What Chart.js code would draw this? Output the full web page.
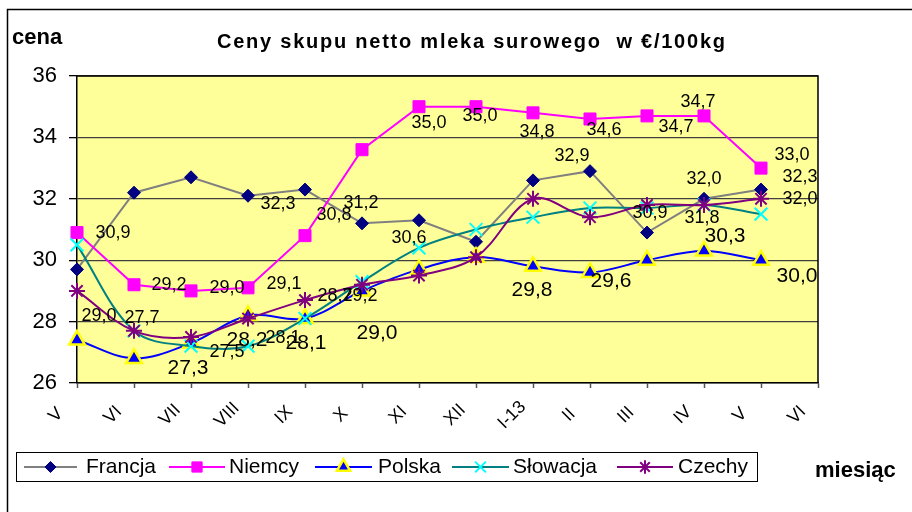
<!DOCTYPE html>
<html lang="pl">
<head>
<meta charset="utf-8">
<title>Ceny skupu netto mleka surowego</title>
<script src="https://cdn.jsdelivr.net/npm/chart.js@4.4.1/dist/chart.umd.min.js"></script>
<style>
  html, body { margin: 0; padding: 0; background: #fff; }
  #wrap { width: 912px; height: 512px; }
</style>
</head>
<body>
<div id="wrap"><canvas id="lineChart" width="912" height="512"></canvas></div>
<script>
// miesiące na osi X (ostatni bez danych)
const miesiace = ['V', 'VI', 'VII', 'VIII', 'IX', 'X', 'XI', 'XII', 'I-13', 'II', 'III', 'IV', 'V', 'VI'];
const yTicks = [26, 28, 30, 32, 34, 36];

// ceny w €/100kg
const francja  = [29.7, 32.2, 32.7, 32.1, 32.3, 31.2, 31.3, 30.6, 32.6, 32.9, 30.9, 32.0, 32.3];
const niemcy   = [30.9, 29.2, 29.0, 29.1, 30.8, 33.6, 35.0, 35.0, 34.8, 34.6, 34.7, 34.7, 33.0];
const polska   = [27.4, 26.8, 27.3, 28.2, 28.1, 29.0, 29.7, 30.1, 29.8, 29.6, 30.0, 30.3, 30.0];
const slowacja = [30.5, 27.7, 27.2, 27.2, 28.1, 29.3, 30.4, 31.0, 31.4, 31.7, 31.7, 31.8, 31.5];
const czechy   = [29.0, 27.7, 27.5, 28.1, 28.7, 29.2, 29.5, 30.1, 32.0, 31.4, 31.8, 31.8, 32.0];

const FONT = "'Liberation Sans', Arial, sans-serif";

// etykiety danych: [indeks punktu, przesunięcie x, przesunięcie y]
const etykiety = {
    0: [[4, -27, 14], [5, -1, -20], [7, -67, -4], [9, -18, -15], [10, 3, -20], [11, 0, -20], [12, 39, -13]],
    1: [[0, 36, 0], [1, 35, 0], [2, 36, -3], [3, 36, -4], [4, 29, -21], [6, 10, 16], [7, 4, 9],
        [8, 4, 19], [9, 14, 11], [10, 29, 11], [11, -6, -14], [12, 31, -13]],
    2: [[2, -3, 25], [3, -1, 25], [4, 1, 25], [5, 15, 42], [8, -1, 24], [9, 21, 9], [11, 21, -15], [12, 36, 16]],
    4: [[0, 22, 25], [1, 8, -13], [2, 36, 15], [3, 35, 20], [4, 30, -4], [5, -2, 11], [11, -2, 13], [12, 39, 0]]
};

const seria = [
    { label: 'Francja',  data: francja,  line: '#808080', fill: '#000080', stroke: '#000080', style: 'rectRot',  r: 6.5, bw: 1,   tension: 0,    order: 4 },
    { label: 'Niemcy',   data: niemcy,   line: '#FF00FF', fill: '#FF00FF', stroke: '#FF00FF', style: 'rect',     r: 8.5, bw: 1,   tension: 0,    order: 3 },
    { label: 'Polska',   data: polska,   line: '#0000FF', fill: '#0000FF', stroke: '#FFFF00', style: 'triangle', r: 9,   bw: 2.5, tension: 0.35, order: 2 },
    { label: 'Słowacja', data: slowacja, line: '#008080', fill: '#00FFFF', stroke: '#00FFFF', style: 'crossRot', r: 9,   bw: 2,   tension: 0.35, order: 1 },
    { label: 'Czechy',   data: czechy,   line: '#800080', fill: '#800080', stroke: '#800080', style: 'star',     r: 8,   bw: 2,   tension: 0.35, order: 0 }
];

function drawMarker(ctx, s, x, y, r) {
    ctx.save();
    ctx.fillStyle = s.fill;
    ctx.strokeStyle = s.stroke;
    ctx.lineWidth = s.bw;
    if (Chart.helpers && Chart.helpers.drawPoint) {
        Chart.helpers.drawPoint(ctx, { pointStyle: s.style, rotation: 0, radius: r, borderWidth: s.bw }, x, y);
    }
    ctx.restore();
}

// tło, ramki, tytuły, etykiety osi X i legenda
const dekoracje = {
    id: 'dekoracje',
    beforeDraw(chart) {
        const { ctx, chartArea: a } = chart;
        ctx.save();
        ctx.fillStyle = '#fff';
        ctx.fillRect(0, 0, chart.width, chart.height);
        ctx.fillStyle = '#FFFF99';
        ctx.fillRect(a.left, a.top, a.right - a.left, a.bottom - a.top);
        ctx.restore();
    },
    beforeDatasetsDraw(chart) {
        const { ctx, chartArea: a } = chart;
        ctx.save();
        ctx.strokeStyle = '#000';
        ctx.lineWidth = 1.5;
        ctx.beginPath();
        ctx.moveTo(a.left, a.top);
        ctx.lineTo(a.right, a.top);
        ctx.lineTo(a.right, a.bottom);
        ctx.stroke();
        ctx.restore();
    },
    afterDatasetsDraw(chart) {
        const { ctx, chartArea: a } = chart;
        ctx.save();
        ctx.beginPath();
        ctx.rect(0, 0, a.right, chart.height);
        ctx.clip();
        ctx.fillStyle = '#000';
        ctx.textAlign = 'center';
        ctx.textBaseline = 'middle';
        Object.keys(etykiety).forEach(k => {
            const meta = chart.getDatasetMeta(+k);
            const vals = chart.data.datasets[+k].data;
            ctx.font = (+k === 2 ? '21px ' : '18px ') + FONT;
            etykiety[k].forEach(([i, dx, dy]) => {
                const p = meta.data[i];
                ctx.fillText(vals[i].toFixed(1).replace('.', ','), p.x + dx, p.y + dy);
            });
        });
        ctx.restore();
    },
    afterDraw(chart) {
        const { ctx, chartArea: a } = chart;
        const xs = chart.scales.x;
        ctx.save();

        // ramka całego wykresu
        ctx.strokeStyle = '#000';
        ctx.lineWidth = 1.5;
        ctx.strokeRect(7.5, 9.5, 1000, 1000);

        // etykiety miesięcy, obrócone
        ctx.fillStyle = '#000';
        ctx.font = '18px ' + FONT;
        ctx.textAlign = 'center';
        ctx.textBaseline = 'middle';
        miesiace.forEach((m, i) => {
            ctx.save();
            ctx.translate(xs.getPixelForValue(i) - 21, a.bottom + 32);
            ctx.rotate(-Math.PI / 4);
            ctx.fillText(m, 0, 0);
            ctx.restore();
        });

        // tytuł z rozstrzelonymi literami
        const tytul = 'Ceny skupu netto mleka surowego  w €/100kg';
        ctx.font = 'bold 20px ' + FONT;
        ctx.textAlign = 'left';
        ctx.textBaseline = 'alphabetic';
        const chars = Array.from(tytul);
        const wTot = chars.reduce((s, c) => s + ctx.measureText(c).width, 0);
        const gap = (508 - wTot) / (chars.length - 1);
        let tx = 217;
        chars.forEach(c => {
            ctx.fillText(c, tx, 48);
            tx += ctx.measureText(c).width + gap;
        });

        ctx.font = 'bold 22px ' + FONT;
        ctx.fillText('cena', 12, 44);
        ctx.fillText('miesiąc', 815, 477);

        // legenda
        ctx.fillStyle = '#fff';
        ctx.fillRect(16, 452, 741, 29);
        ctx.strokeStyle = '#000';
        ctx.lineWidth = 1;
        ctx.strokeRect(16.5, 452.5, 741, 29);
        const poz = [[24, 77, 86], [169, 225, 229], [315, 372, 378], [452, 509, 513], [617, 673, 678]];
        const ly = 467;
        seria.forEach((s, i) => {
            const [x0, x1, xt] = poz[i];
            ctx.strokeStyle = s.line;
            ctx.lineWidth = 2;
            ctx.beginPath();
            ctx.moveTo(x0, ly);
            ctx.lineTo(x1, ly);
            ctx.stroke();
            drawMarker(ctx, s, (x0 + x1) / 2, ly, s.r * 0.85);
            ctx.fillStyle = '#000';
            ctx.font = '21px ' + FONT;
            ctx.textAlign = 'left';
            ctx.textBaseline = 'middle';
            ctx.fillText(s.label, xt, ly);
        });
        ctx.restore();
    }
};

function initializeChart() {
    const canvas = document.getElementById('lineChart');
    if (!canvas) return;

    new Chart(canvas.getContext('2d'), {
        type: 'line',
        data: {
            labels: miesiace,
            datasets: seria.map(s => ({
                label: s.label,
                data: s.data,
                borderColor: s.line,
                borderWidth: 2,
                backgroundColor: s.fill,
                pointStyle: s.style,
                pointRadius: s.r,
                pointBackgroundColor: s.fill,
                pointBorderColor: s.stroke,
                pointBorderWidth: s.bw,
                tension: s.tension,
                order: s.order,
                clip: false,
                fill: false
            }))
        },
        options: {
            responsive: false,
            animation: false,
            events: [],
            layout: { padding: { left: 0, top: 76, right: 94, bottom: 89 } },
            plugins: {
                legend: { display: false },
                title: { display: false },
                tooltip: { enabled: false }
            },
            scales: {
                x: {
                    type: 'category',
                    offset: false,
                    afterFit: scale => { scale.height = 40; },
                    grid: { drawOnChartArea: false, tickLength: 5, tickColor: '#555', tickWidth: 1.5 },
                    border: { color: '#000', width: 1.5 },
                    ticks: { display: false }
                },
                y: {
                    min: yTicks[0],
                    max: yTicks[yTicks.length - 1],
                    afterFit: scale => { scale.width = 77; },
                    afterBuildTicks: scale => { scale.ticks = yTicks.map(v => ({ value: v })); },
                    grid: { color: '#404040', lineWidth: 1.3, tickLength: 8, tickColor: '#000' },
                    border: { color: '#000', width: 1.5 },
                    ticks: { color: '#000', font: { family: FONT, size: 22 }, padding: 12 }
                }
            }
        },
        plugins: [dekoracje]
    });
}

document.addEventListener('DOMContentLoaded', initializeChart);
</script>
</body>
</html>
